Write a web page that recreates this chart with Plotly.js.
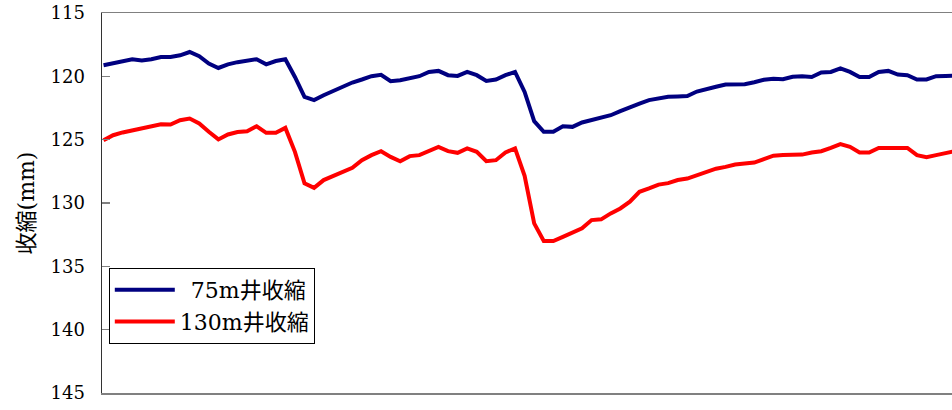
<!DOCTYPE html>
<html>
<head>
<meta charset="utf-8">
<script src="https://cdn.plot.ly/plotly-3.0.1.min.js"></script>
<style>html,body{margin:0;padding:0;background:#fff;overflow:hidden}#chart{width:952px;height:410px}</style>
</head>
<body>
<div id="chart"></div>
<script>
const days = Array.from({length: 90}, (_, i) => i + 1);
const well75 = [119.12,118.94,118.79,118.65,118.75,118.65,118.47,118.47,118.34,118.08,
118.41,118.99,119.34,119.05,118.88,118.79,118.65,119.05,118.79,118.65,
120.05,121.62,121.88,121.49,121.15,120.84,120.49,120.25,119.99,119.88,
120.39,120.31,120.17,119.99,119.65,119.57,119.91,119.97,119.65,119.91,
120.36,120.25,119.91,119.65,121.23,123.54,124.38,124.38,123.94,123.99,
123.64,123.46,123.33,123.07,122.75,122.49,122.15,121.88,121.73,121.62,
121.59,121.55,121.2,120.98,120.82,120.64,120.62,120.62,120.47,120.27,
120.19,120.23,120.03,120.0,120.05,119.7,119.65,119.38,119.65,120.05,
120.05,119.65,119.57,119.86,119.91,120.25,120.25,119.99,119.97,119.95];
const well130 = [125.04,124.65,124.43,124.27,124.07,123.94,123.78,123.8,123.46,123.33,
123.72,124.38,124.98,124.59,124.4,124.33,123.94,124.46,124.46,124.07,
125.96,128.45,128.8,128.19,127.88,127.54,127.22,126.62,126.22,125.91,
126.36,126.7,126.3,126.22,125.91,125.57,125.91,126.04,125.69,125.96,
126.7,126.62,126.01,125.69,127.85,131.61,133.0,133.0,132.67,132.35,
132.0,131.35,131.29,130.82,130.43,129.9,129.12,128.85,128.55,128.43,
128.19,128.07,127.8,127.6,127.29,127.15,126.96,126.89,126.81,126.54,
126.26,126.22,126.18,126.18,126.01,125.91,125.65,125.35,125.57,126.01,
126.01,125.65,125.65,125.65,125.65,126.22,126.38,126.22,126.06,125.9];
const seriesNames = ['\u200275m井收縮', '130m井收縮'];
const yTicks = [115, 120, 125, 130, 135, 140, 145];

const fontStack = 'DejaVu Serif, Liberation Serif, Noto Sans CJK JP, serif';
const traces = [
  {x: days, y: well75, name: seriesNames[0], type: 'scatter', mode: 'lines',
   line: {color: '#000080', width: 4}},
  {x: days, y: well130, name: seriesNames[1], type: 'scatter', mode: 'lines',
   line: {color: '#ff0000', width: 4}}
];
const layout = {
  width: 952, height: 410,
  margin: {l: 102, r: 0, t: 13, b: 17},
  paper_bgcolor: '#fff', plot_bgcolor: '#fff',
  showlegend: true,
  legend: {x: 0.008, y: 0.329, xanchor: 'left', yanchor: 'top',
    bgcolor: '#fff', bordercolor: '#000', borderwidth: 1,
    font: {family: fontStack, size: 22, color: '#000'}, itemwidth: 60},
  xaxis: {range: [0.84, 89.66], showticklabels: false, ticks: '', showgrid: false,
    zeroline: false, showline: true, mirror: true, linecolor: '#808080', linewidth: 1.5},
  yaxis: {range: [145, 115], tickvals: yTicks, ticktext: yTicks.map(String),
    ticks: 'inside', ticklen: 8, tickcolor: '#808080', tickwidth: 1.5,
    showgrid: false, zeroline: false, showline: true, linecolor: '#333', linewidth: 1.5,
    tickfont: {family: fontStack, size: 18, color: '#000'}, ticklabelstandoff: 12,
    title: {text: '收縮(mm)', font: {family: fontStack, size: 22, color: '#000'}, standoff: 10}}
};
Plotly.newPlot('chart', traces, layout, {displayModeBar: false, staticPlot: true});
</script>
</body>
</html>
